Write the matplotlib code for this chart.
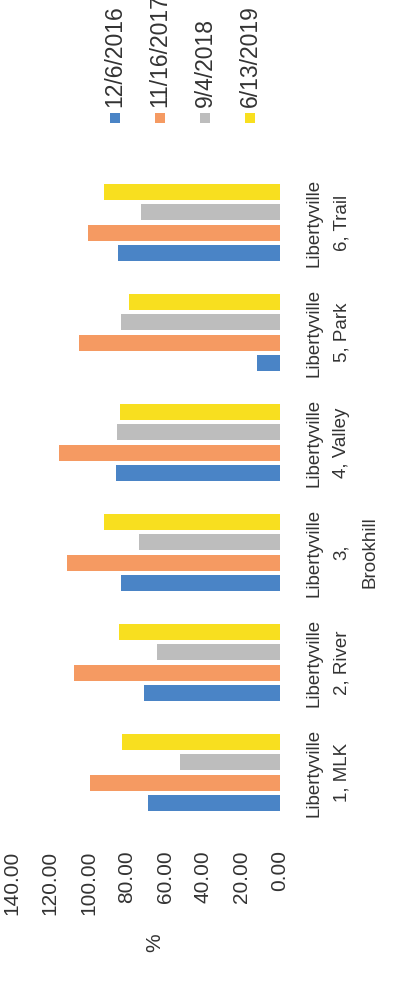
"""Rotated grouped bar chart (scanned page, turned 90 degrees) - Libertyville sites."""

import numpy as np
import matplotlib
matplotlib.use("Agg")
import matplotlib.pyplot as plt
from matplotlib.patches import Rectangle

# ---------------------------------------------------------------------------
# Data
# ---------------------------------------------------------------------------
sites = [
    "Libertyville\n1, MLK",
    "Libertyville\n2, River",
    "Libertyville\n3,\nBrookhill",
    "Libertyville\n4, Valley",
    "Libertyville\n5, Park",
    "Libertyville\n6, Trail",
]
dates = ["12/6/2016", "11/16/2017", "9/4/2018", "6/13/2019"]
v_2016 = [69.2, 71.3, 82.9, 85.5, 12.0, 84.4]
v_2017 = [99.1, 107.5, 111.2, 115.4, 104.9, 100.2]
v_2018 = [52.4, 64.5, 73.9, 85.0, 82.9, 72.4]
v_2019 = [82.3, 83.9, 91.8, 83.4, 78.7, 91.8]
value_ticks = [0, 20, 40, 60, 80, 100, 120, 140]

series = [v_2016, v_2017, v_2018, v_2019]
COLORS = ["#4a84c6", "#f59a62", "#bdbdbd", "#f8df1f"]
TEXT = "#333333"
SANS = ["Liberation Sans", "DejaVu Sans"]

W, H = 409, 993
fig = plt.figure(figsize=(W / 100, H / 100), dpi=100)
fig.patch.set_facecolor("white")

# axes in pixel space of the picture
x0, x1 = 12, 280          # value 140 ... value 0
y_top, y_bot = 167.5, 827.5
ax = fig.add_axes([x0 / W, 1 - y_bot / H, (x1 - x0) / W, (y_bot - y_top) / H])

pos = np.arange(len(sites))
bar_h = 0.147
step = 0.186
for i, (vals, col) in enumerate(zip(series, COLORS)):
    off = (i - 1.5) * step
    ax.barh(pos + off, vals, height=bar_h, color=col, edgecolor="none")

ax.set_xlim(140, 0)
ax.set_ylim(-0.5, len(sites) - 0.5)
for s in ax.spines.values():
    s.set_visible(False)

ax.set_xticks(value_ticks)
ax.set_xticklabels([f"{v:.2f}" for v in value_ticks])
ax.tick_params(axis="x", length=0, pad=16.5, labelsize=15, labelcolor=TEXT,
               labelrotation=90)
for lab in ax.get_xticklabels():
    lab.set_family(SANS)
    lab.set_va("top")

ax.yaxis.tick_right()
ax.set_yticks(pos)
ax.set_yticklabels(sites)
ax.tick_params(axis="y", length=0, pad=18, labelcolor=TEXT)
for lab in ax.get_yticklabels():
    lab.set_rotation(90)
    lab.set_va("center")
    lab.set_ha("left")
    lab.set_multialignment("center")
    lab.set_linespacing(1.85)
    lab.set_fontsize(13.5)
    lab.set_family(SANS)

# axis title
fig.text(155 / W, 1 - 943 / H, "%", rotation=90, ha="center", va="center",
         fontsize=15, color=TEXT, family=SANS)

# legend (drawn turned like the page)
for i, (lbl, col) in enumerate(zip(dates, COLORS)):
    cx = 115 + 45 * i
    sq = 10
    fig.add_artist(Rectangle(((cx - sq / 2) / W, 1 - (118 + sq / 2) / H),
                             sq / W, sq / H, transform=fig.transFigure,
                             facecolor=col, edgecolor="none"))
    fig.text(cx / W, 1 - 107 / H, lbl, rotation=90, ha="center", va="bottom",
             fontsize=16.5, color=TEXT, family=SANS)

fig.savefig("out.png", dpi=100, facecolor="white")
